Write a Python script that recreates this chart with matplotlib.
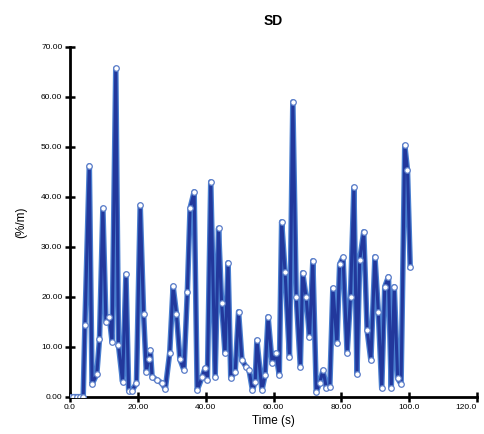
import matplotlib
matplotlib.use('Agg')
import matplotlib.pyplot as plt

# Time (s) and SD (%/m) values
time_s = [0.0, 1.0, 2.0, 3.0, 3.9, 4.4, 5.7, 6.5, 7.9, 8.7,
          9.7, 10.6, 11.6, 12.4, 13.5, 14.3, 15.5, 16.5, 17.3, 18.3,
          19.6, 20.7, 21.7, 22.5, 23.2, 23.7, 24.2, 25.7, 27.2, 28.1,
          29.4, 30.4, 31.4, 32.4, 33.6, 34.6, 35.4, 36.6, 37.5, 39.0,
          39.8, 40.5, 41.5, 42.8, 43.8, 44.7, 45.7, 46.6, 47.4, 48.7,
          49.7, 50.7, 51.9, 52.8, 53.8, 54.6, 55.1, 56.6, 57.5, 58.4,
          59.6, 60.7, 61.7, 62.4, 63.4, 64.7, 65.7, 66.7, 67.9, 68.6,
          69.6, 70.6, 71.6, 72.6, 73.6, 74.6, 75.6, 76.6, 77.5, 78.7,
          79.5, 80.5, 81.7, 82.7, 83.7, 84.6, 85.4, 86.6, 87.6, 88.7,
          89.9, 90.9, 91.9, 92.8, 93.9, 94.7, 95.6, 96.6, 97.6, 98.7,
          99.5, 100.3]
sd_values = [0.0, 0.0, 0.0, 0.0, 0.0, 14.3, 46.2, 2.5, 4.5, 11.5,
             37.7, 15.0, 16.0, 11.0, 65.7, 10.3, 3.0, 24.5, 1.2, 1.2,
             2.7, 38.3, 16.5, 5.0, 7.5, 9.3, 4.0, 3.3, 2.7, 1.5,
             8.8, 22.1, 16.5, 7.5, 5.3, 21.0, 37.7, 41.0, 1.3, 4.0,
             5.7, 3.3, 43.0, 4.0, 33.7, 18.7, 8.7, 26.8, 3.7, 5.0,
             17.0, 7.3, 6.0, 5.3, 1.3, 3.0, 11.3, 1.3, 4.3, 16.0,
             6.7, 8.7, 4.3, 35.0, 25.0, 8.0, 59.0, 20.0, 6.0, 24.8,
             20.0, 12.0, 27.2, 1.0, 2.7, 5.3, 1.7, 2.0, 21.7, 10.7,
             26.5, 27.9, 8.7, 20.0, 41.9, 4.5, 27.3, 33.0, 13.3, 7.3,
             28.0, 17.0, 1.7, 22.0, 24.0, 1.7, 22.0, 3.7, 2.5, 50.3,
             45.3, 26.0]

x_ticks = [0, 20, 40, 60, 80, 100, 120]
x_tick_labels = ['0.0', '20.00', '40.00', '60.00', '80.00', '100.0', '120.0']
y_ticks = [0, 10, 20, 30, 40, 50, 60, 70]
y_tick_labels = ['0.00', '10.00', '20.00', '30.00', '40.00', '50.00', '60.00', '70.00']

plt.rcParams['font.family'] = ['Liberation Sans', 'DejaVu Sans']

fig = plt.figure(figsize=(4.84, 4.34), dpi=100)
ax = fig.add_axes([0.1446, 0.086, 0.841, 0.806])

# light blue halo under the dark blue line, as in the original
ax.plot(time_s, sd_values, '-', color='#4a7fd0', linewidth=4.0, zorder=2)
ax.plot(time_s, sd_values, '-', color='#22389c', linewidth=2.2, zorder=3,
        marker='o', markersize=4, markerfacecolor='white',
        markeredgecolor='#5a7cc8', markeredgewidth=0.9)

ax.set_xlim(0, 120)
ax.set_ylim(0, 70)
ax.set_xticks(x_ticks)
ax.set_xticklabels(x_tick_labels)
ax.set_yticks(y_ticks)
ax.set_yticklabels(y_tick_labels)
# keep the last x label inside the figure
ax.get_xticklabels()[-1].set_horizontalalignment('right')

for side in ['top', 'right']:
    ax.spines[side].set_visible(False)
for side in ['left', 'bottom']:
    ax.spines[side].set_linewidth(2.0)
    ax.spines[side].set_color('black')

ax.tick_params(axis='both', direction='inout', length=7, width=1.8,
               labelsize=6, pad=2)

ax.set_title('SD', fontsize=10, fontweight='bold', pad=16)
ax.set_xlabel('Time (s)', fontsize=8.5, labelpad=3)
ax.set_ylabel('(%/m)', fontsize=8.5, labelpad=10)

fig.savefig('out.png', dpi=100)
